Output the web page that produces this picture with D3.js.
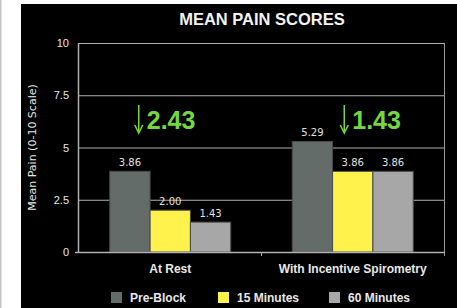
<!DOCTYPE html>
<html>
<head>
<meta charset="utf-8">
<script src="https://cdn.jsdelivr.net/npm/d3@7"></script>
<style>
  body { margin: 0; background: #fff; }
  svg { display: block; font-family: "Liberation Sans", Arial, sans-serif; }
</style>
</head>
<body>
<svg id="chart" width="457" height="308"></svg>
<script>
// chart data
var categories = ["At Rest", "With Incentive Spirometry"];
var series = ["Pre-Block", "15 Minutes", "60 Minutes"];
var preBlock = [3.86, 5.29];
var min15 = [2.00, 3.86];
var min60 = [1.43, 3.86];
var reductions = ["2.43", "1.43"];
var yTicks = [0, 2.5, 5, 7.5, 10];
var yTickLabels = ["0", "2.5", "5", "7.5", "10"];

var colors = ["#646c69", "#fff24c", "#a7a7a7"];
var values = [preBlock, min15, min60];

var svg = d3.select("#chart");

// page background + black panel
svg.append("rect").attr("x", 0).attr("y", 0).attr("width", 1.5).attr("height", 308).style("fill", "#c4c4c4");
svg.append("rect").attr("x", 21).attr("y", 4).attr("width", 436).attr("height", 304).style("fill", "#000");

// plot area bounds
var plotLeft = 79, plotRight = 444, plotTop = 43, plotBottom = 252;

var x0 = d3.scaleBand().domain(categories).range([plotLeft, plotRight]).paddingInner(0).paddingOuter(0);
var x1 = d3.scaleBand().domain(series).range([0, x0.bandwidth() * 0.663]).padding(0);
var groupOffset = (x0.bandwidth() - x1.range()[1]) / 2;
var y = d3.scaleLinear().domain([0, 10]).range([plotBottom, plotTop]);

// gridlines
svg.append("g").selectAll("line").data(yTicks.slice(1)).enter().append("line")
  .attr("x1", plotLeft).attr("x2", plotRight)
  .attr("y1", function(d) { return y(d) + 0.5; })
  .attr("y2", function(d) { return y(d) + 0.5; })
  .style("stroke", "#b0b0b0").style("stroke-width", 1);

// right frame line
svg.append("line").attr("x1", plotRight + 0.5).attr("x2", plotRight + 0.5).attr("y1", plotTop).attr("y2", plotBottom + 4)
  .style("stroke", "#999").style("stroke-width", 1);

// y tick labels
svg.append("g").selectAll("text").data(yTicks).enter().append("text")
  .attr("x", 69).attr("y", function(d) { return y(d) + 4; })
  .attr("text-anchor", "end")
  .style("fill", "#e8e8e8").style("font-size", "11px")
  .text(function(d, i) { return yTickLabels[i]; });

// y axis title
svg.append("text")
  .attr("transform", "translate(36," + y(5) + ") rotate(-90)")
  .attr("text-anchor", "middle")
  .style("fill", "#e8e8e8").style("font-size", "11px")
  .style("font-family", "'DejaVu Sans', sans-serif")
  .text("Mean Pain (0-10 Scale)");

// bars with value labels
var groups = svg.append("g").selectAll("g").data(categories).enter().append("g")
  .attr("transform", function(d) { return "translate(" + (x0(d) + groupOffset) + ",0)"; });

groups.each(function(cat, ci) {
  var g = d3.select(this);
  series.forEach(function(s, si) {
    var v = values[si][ci];
    g.append("rect")
      .attr("x", x1(s)).attr("y", y(v))
      .attr("width", x1.bandwidth()).attr("height", plotBottom - y(v))
      .style("fill", colors[si]).style("stroke", "#4a4a4a").style("stroke-width", 1);
    g.append("text")
      .attr("x", x1(s) + x1.bandwidth() / 2).attr("y", y(v) - 5)
      .attr("text-anchor", "middle")
      .style("fill", "#e0e0e0").style("font-size", "10px")
      .style("font-family", "'DejaVu Sans', sans-serif")
      .text(v.toFixed(2));
  });
});

// axis lines
svg.append("line").attr("x1", plotLeft - 0.5).attr("x2", plotLeft - 0.5).attr("y1", plotTop).attr("y2", plotBottom + 1)
  .style("stroke", "#b0b0b0").style("stroke-width", 1.5);
svg.append("line").attr("x1", plotLeft - 4).attr("x2", plotRight + 1).attr("y1", plotBottom + 0.5).attr("y2", plotBottom + 0.5)
  .style("stroke", "#b0b0b0").style("stroke-width", 1.5);
svg.append("line").attr("x1", x0(categories[1])).attr("x2", x0(categories[1]))
  .attr("y1", plotBottom).attr("y2", plotBottom + 4).style("stroke", "#b0b0b0");

// category labels
svg.append("g").selectAll("text").data(categories).enter().append("text")
  .attr("x", function(d) { return x0(d) + x0.bandwidth() / 2; })
  .attr("y", 273)
  .attr("text-anchor", "middle")
  .style("fill", "#e8e8e8").style("font-size", "12px").style("font-weight", "bold")
  .text(function(d) { return d; });

// reduction annotations (arrow + value), arrow offset within each group
var arrowOffset = [29, 52];
svg.append("g").selectAll("g").data(categories).enter().append("g")
  .each(function(cat, ci) {
    var g = d3.select(this);
    var ax = x0(cat) + groupOffset + arrowOffset[ci];
    var ay = 105;
    g.append("line").attr("x1", ax).attr("x2", ax).attr("y1", ay).attr("y2", ay + 26)
      .style("stroke", "#74d83c").style("stroke-width", 1.5);
    g.append("path")
      .attr("d", "M" + (ax - 4) + "," + (ay + 20) + " L" + ax + "," + (ay + 28) + " L" + (ax + 4) + "," + (ay + 20))
      .style("fill", "none").style("stroke", "#74d83c").style("stroke-width", 1.5);
    g.append("text").attr("x", ax + 8).attr("y", ay + 24)
      .style("fill", "#74d83c").style("font-size", "25px").style("font-weight", "bold")
      .text(reductions[ci]);
  });

// title
svg.append("text").attr("x", 262).attr("y", 25).attr("text-anchor", "middle")
  .style("fill", "#f2f2f2").style("font-size", "16.5px").style("font-weight", "bold")
  .text("MEAN PAIN SCORES");

// legend
var legendX = [111, 218, 329];
var legend = svg.append("g").selectAll("g").data(series).enter().append("g")
  .attr("transform", function(d, i) { return "translate(" + legendX[i] + ",292)"; });
legend.append("rect").attr("width", 11).attr("height", 11)
  .style("fill", function(d, i) { return colors[i]; });
legend.append("text").attr("x", 19).attr("y", 10)
  .style("fill", "#e8e8e8").style("font-size", "12px").style("font-weight", "bold")
  .text(function(d) { return d; });
</script>
</body>
</html>
